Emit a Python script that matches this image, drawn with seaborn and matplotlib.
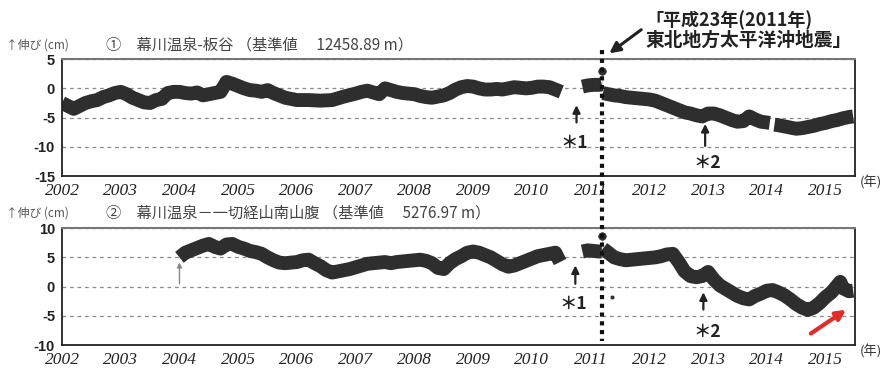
import numpy as np
import pandas as pd
import matplotlib
matplotlib.use("Agg")
import matplotlib.pyplot as plt
from matplotlib.lines import Line2D
import seaborn as sns

# ---------------- data (cm) ----------------
p1_a_year = [2002.0, 2002.1, 2002.2, 2002.3, 2002.4, 2002.5, 2002.6, 2002.7, 2002.8, 2002.9,
             2003.0, 2003.1, 2003.2, 2003.3, 2003.4, 2003.5, 2003.6, 2003.7, 2003.8, 2003.9,
             2004.0, 2004.1, 2004.2, 2004.3, 2004.4, 2004.5, 2004.6, 2004.7, 2004.8, 2004.9,
             2005.0, 2005.1, 2005.2, 2005.3, 2005.4, 2005.5, 2005.6, 2005.7, 2005.8, 2005.9,
             2006.0, 2006.2, 2006.4, 2006.6, 2006.8, 2007.0, 2007.1, 2007.2, 2007.3, 2007.4,
             2007.5, 2007.6, 2007.7, 2007.8, 2008.0, 2008.1, 2008.2, 2008.3, 2008.4, 2008.5,
             2008.6, 2008.7, 2008.8, 2008.9, 2009.0, 2009.1, 2009.2, 2009.3, 2009.4, 2009.5,
             2009.6, 2009.7, 2009.8, 2009.9, 2010.0, 2010.1, 2010.2, 2010.3, 2010.4, 2010.5]
p1_a_cm = [-2.5, -3.0, -3.5, -3.0, -2.5, -2.2, -2.0, -1.5, -1.2, -0.8,
           -0.6, -1.0, -1.6, -2.0, -2.4, -2.5, -2.0, -1.8, -0.8, -0.6,
           -0.6, -0.8, -0.9, -0.7, -1.2, -1.0, -0.8, -0.6, 1.1, 0.8,
           0.4, 0.0, -0.3, -0.4, -0.6, -0.3, -0.8, -1.2, -1.6, -1.8,
           -2.0, -2.0, -2.1, -2.0, -1.4, -0.9, -0.6, -0.4, -0.7, -1.0,
           0.0, -0.3, -0.6, -0.8, -1.0, -1.3, -1.5, -1.6, -1.4, -1.2,
           -0.8, -0.2, 0.2, 0.4, 0.3, 0.0, -0.2, -0.2, -0.1, -0.2,
           0.0, 0.2, 0.1, 0.0, 0.1, 0.3, 0.3, 0.2, -0.2, -0.6]
p1_b_year = [2010.86, 2010.95, 2011.05, 2011.15, 2011.19]
p1_b_cm = [0.3, 0.5, 0.6, 0.6, 0.7]
p1_c_year = [2011.21, 2011.3, 2011.4, 2011.5, 2011.6, 2011.7, 2011.8, 2011.9, 2012.0, 2012.1,
             2012.2, 2012.3, 2012.4, 2012.5, 2012.6, 2012.7, 2012.8, 2012.9, 2013.0, 2013.1,
             2013.2, 2013.3, 2013.4, 2013.5, 2013.6, 2013.7, 2013.8, 2013.9, 2014.05]
p1_c_cm = [-0.8, -1.0, -1.2, -1.3, -1.5, -1.6, -1.7, -1.8, -1.9, -2.1,
           -2.5, -2.9, -3.3, -3.7, -4.1, -4.3, -4.6, -4.8, -4.3, -4.3,
           -4.6, -5.0, -5.4, -5.7, -5.6, -4.8, -5.3, -5.7, -5.9]
p1_d_year = [2014.13, 2014.2, 2014.3, 2014.4, 2014.5, 2014.6, 2014.7, 2014.8, 2014.9, 2015.0,
             2015.1, 2015.2, 2015.3, 2015.4, 2015.47]
p1_d_cm = [-6.2, -6.3, -6.5, -6.7, -6.9, -6.8, -6.6, -6.4, -6.1, -5.9,
           -5.6, -5.4, -5.1, -4.9, -4.8]
p1_spike = (2011.2, 3.0)

p2_a_year = [2004.0, 2004.1, 2004.2, 2004.3, 2004.4, 2004.5, 2004.6, 2004.7, 2004.8, 2004.9,
             2005.0, 2005.1, 2005.2, 2005.3, 2005.4, 2005.5, 2005.6, 2005.7, 2005.8, 2005.9,
             2006.0, 2006.1, 2006.2, 2006.3, 2006.4, 2006.5, 2006.6, 2006.7, 2006.8, 2006.9,
             2007.0, 2007.1, 2007.2, 2007.3, 2007.4, 2007.5, 2007.6, 2007.7, 2007.8, 2007.9,
             2008.0, 2008.1, 2008.2, 2008.3, 2008.4, 2008.5, 2008.6, 2008.7, 2008.8, 2008.9,
             2009.0, 2009.1, 2009.2, 2009.3, 2009.4, 2009.5, 2009.6, 2009.7, 2009.8, 2009.9,
             2010.0, 2010.1, 2010.2, 2010.3, 2010.4, 2010.48]
p2_a_cm = [5.0, 5.8, 6.2, 6.6, 7.0, 7.3, 6.8, 6.5, 7.2, 7.3,
           6.8, 6.5, 6.1, 5.9, 5.6, 5.0, 4.5, 4.1, 4.0, 4.1,
           4.2, 4.5, 4.6, 4.0, 3.5, 2.8, 2.4, 2.6, 2.8, 3.0,
           3.3, 3.6, 3.9, 4.0, 4.1, 4.2, 4.0, 4.2, 4.3, 4.4,
           4.5, 4.6, 4.4, 4.0, 3.2, 3.0, 4.0, 4.7, 5.2, 5.8,
           6.0, 5.8, 5.4, 5.0, 4.4, 3.8, 3.4, 3.6, 4.0, 4.4,
           4.8, 5.2, 5.4, 5.6, 5.8, 4.2]
p2_b_year = [2010.86, 2010.95, 2011.05, 2011.15, 2011.19]
p2_b_cm = [6.0, 6.2, 6.1, 6.0, 6.0]
p2_c_year = [2011.21, 2011.3, 2011.4, 2011.5, 2011.6, 2011.7, 2011.8, 2011.9, 2012.0, 2012.1,
             2012.2, 2012.3, 2012.4, 2012.5, 2012.6, 2012.7, 2012.8, 2012.9, 2013.0, 2013.1,
             2013.2, 2013.3, 2013.4, 2013.5, 2013.6, 2013.7, 2013.8, 2013.9, 2014.0, 2014.1,
             2014.2, 2014.3, 2014.4, 2014.5, 2014.6, 2014.7, 2014.8, 2014.9, 2015.0, 2015.1,
             2015.2, 2015.25, 2015.3, 2015.4, 2015.47]
p2_c_cm = [6.5, 5.8, 5.0, 4.7, 4.5, 4.6, 4.7, 4.8, 4.9, 5.0,
           5.2, 5.5, 5.6, 4.2, 2.6, 1.8, 1.6, 1.8, 2.5, 1.2,
           0.2, -0.4, -1.0, -1.6, -2.0, -2.2, -1.6, -1.2, -0.7, -0.6,
           -1.0, -1.5, -2.2, -3.0, -3.6, -4.0, -3.6, -2.8, -1.8, -1.0,
           0.2, 0.8, -0.3, -0.8, -0.7]
p2_spike = (2011.2, 8.6)
p2_outlier = (2011.36, -1.7)

years = list(range(2002, 2016))
p1_yticks = [5, 0, -5, -10, -15]
p2_yticks = [10, 5, 0, -5, -10]
title1 = "①　幕川温泉-板谷 （基準値　 12458.89 m）"
title2 = "②　幕川温泉－一切経山南山腹 （基準値　 5276.97 m）"
ylabel = "↑伸び (cm)"
quake_line1 = "「平成23年(2011年)"
quake_line2 = "東北地方太平洋沖地震」"
quake_year = 2011.19


def frame(segs):
    rows = []
    for i, (xs, ys) in enumerate(segs):
        for x, y in zip(xs, ys):
            rows.append({"year": x, "cm": y, "seg": i})
    return pd.DataFrame(rows)


df1 = frame([(p1_a_year, p1_a_cm), (p1_b_year, p1_b_cm), (p1_c_year, p1_c_cm), (p1_d_year, p1_d_cm)])
df2 = frame([(p2_a_year, p2_a_cm), (p2_b_year, p2_b_cm), (p2_c_year, p2_c_cm)])

sns.set_style("white")
plt.rcParams['font.family'] = ['Noto Sans CJK JP', 'DejaVu Sans']

DARK = "#2e2e2e"
fig = plt.figure(figsize=(8.83, 3.74), dpi=100)
ax1 = fig.add_axes([0.0702, 0.529, 0.898, 0.313])
ax2 = fig.add_axes([0.0702, 0.0775, 0.898, 0.3125])

for ax, df, yt, spike, bend in [(ax1, df1, p1_yticks, p1_spike, p1_b_cm[-1]),
                                (ax2, df2, p2_yticks, p2_spike, p2_b_cm[-1])]:
    sns.lineplot(data=df, x="year", y="cm", units="seg", estimator=None, color=DARK,
                 lw=10, ax=ax, legend=False, solid_joinstyle="round", solid_capstyle="butt")
    # thin stroke up to the coseismic spike
    sns.lineplot(x=[spike[0], spike[0]], y=[bend, spike[1]], color=DARK, lw=2, ax=ax,
                 legend=False, sort=False)
    sns.scatterplot(x=[spike[0]], y=[spike[1]], color=DARK, s=30, ax=ax, legend=False,
                    edgecolor=DARK)
    ax.set_xlim(2002, 2015.5)
    ax.set_ylim(min(yt), max(yt))
    ax.set_yticks(yt)
    ax.set_yticklabels([str(v) for v in yt], fontfamily="Liberation Sans",
                       fontweight="bold", fontsize=10.5, color="#222")
    ax.set_xticks(years)
    ax.set_xticklabels([str(y) for y in years], fontfamily="Liberation Serif",
                       fontstyle="italic", fontsize=12.5, color="#222")
    ax.tick_params(axis="both", direction="out", length=4, width=1, color="#333", pad=1)
    ax.grid(axis="y", ls=(0, (3, 3)), color="#8a8a8a", lw=0.9)
    ax.grid(axis="x", visible=False)
    ax.set_xlabel("")
    ax.set_ylabel("")
    for s in ["left", "bottom", "right"]:
        ax.spines[s].set_color("#222")
        ax.spines[s].set_linewidth(1.3)
    ax.spines["top"].set_color("#777")
    ax.spines["top"].set_linewidth(1.5)

sns.scatterplot(x=[p2_outlier[0]], y=[p2_outlier[1]], color=DARK, s=10, ax=ax2, legend=False)

# small start marker on panel 2
ax2.annotate("", xy=(2004.0, 4.6), xytext=(2004.0, 0.0),
             arrowprops=dict(arrowstyle="-|>", lw=1.0, color="#888", mutation_scale=7))

# *1 / *2 arrows
arr = dict(arrowstyle="-|>", lw=1.6, color="#222", mutation_scale=11)
lab = dict(ha="center", va="center", fontsize=12.5, fontweight="bold", color="#222")
ax1.annotate("", xy=(2010.76, -2.4), xytext=(2010.76, -6.3), arrowprops=arr, annotation_clip=False)
ax1.text(2010.72, -9.3, "＊1", **lab)
ax1.annotate("", xy=(2012.95, -5.6), xytext=(2012.95, -10.3), arrowprops=arr, annotation_clip=False)
ax1.text(2012.98, -12.8, "＊2", **lab)
ax2.annotate("", xy=(2010.74, 4.1), xytext=(2010.74, 0.0), arrowprops=arr, annotation_clip=False)
ax2.text(2010.70, -2.9, "＊1", **lab)
ax2.annotate("", xy=(2012.92, -0.5), xytext=(2012.92, -4.4), arrowprops=arr, annotation_clip=False)
ax2.text(2012.98, -7.7, "＊2", **lab)

# red arrow
ax2.annotate("", xy=(2015.39, -3.7), xytext=(2014.71, -8.3),
             arrowprops=dict(arrowstyle="-|>", lw=3.0, color="#e52a2a", mutation_scale=14),
             annotation_clip=False)

# earthquake dotted line across both panels
fig.canvas.draw()
inv = fig.transFigure.inverted()
x_f, y_top = inv.transform(ax1.transData.transform((quake_year, 6.6)))
_, y_bot = inv.transform(ax2.transData.transform((quake_year, -9.3)))
fig.add_artist(Line2D([x_f, x_f], [y_top, y_bot], transform=fig.transFigure,
                      color="#111", lw=3.0, linestyle=(0, (1, 1.1)), dash_capstyle="butt"))

# earthquake annotation arrow and text
ax1.annotate("", xy=(2011.28, 5.7), xytext=(2011.9, 10.3),
             arrowprops=dict(arrowstyle="-|>", lw=2.2, color="#222", mutation_scale=16),
             annotation_clip=False)
fig.text(645 / 883, 1 - 20 / 374, quake_line1, ha="left", va="center", fontsize=13,
         fontweight="bold", color="#222")
fig.text(645 / 883, 1 - 40 / 374, quake_line2, ha="left", va="center", fontsize=13.5,
         fontweight="bold", color="#222")

# titles and labels
for ty, title in [(1 - 45 / 374, title1), (1 - 213 / 374, title2)]:
    fig.text(106 / 883, ty, title, ha="left", va="center", fontsize=11, color="#444")
    fig.text(6 / 883, ty, ylabel, ha="left", va="center", fontsize=8.5, color="#555")
for ty in [1 - 183 / 374, 1 - 352 / 374]:
    fig.text(860 / 883, ty, "(年)", ha="left", va="center", fontsize=9.5, color="#333")

fig.savefig("out.png", dpi=100)
